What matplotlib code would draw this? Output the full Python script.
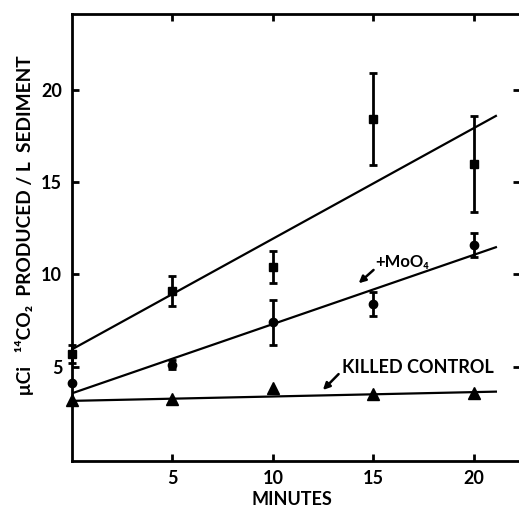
import matplotlib
matplotlib.use("Agg")
import matplotlib.pyplot as plt
import numpy as np

FONT = ['Lato', 'DejaVu Sans']
plt.rcParams['font.family'] = FONT

# Data
minutes = [0, 5, 10, 15, 20]
control_y = [5.7, 9.1, 10.4, 18.4, 16.0]
control_err = [0.5, 0.8, 0.85, 2.5, 2.6]
moo4_y = [4.1, 5.1, 7.4, 8.4, 11.6]
moo4_err = [0.0, 0.25, 1.2, 0.65, 0.65]
killed_y = [3.2, 3.25, 3.85, 3.5, 3.6]

# Fitted lines (start, end values)
fit_x = [0, 21.1]
control_fit = [5.94, 18.58]
moo4_fit = [3.56, 11.47]
killed_fit = [3.15, 3.65]

xticks = [5, 10, 15, 20]
yticks = [5, 10, 15, 20]

fig = plt.figure(figsize=(5.19, 5.08), dpi=100)
W, H = 519, 508
left_px, right_px = 72, 520
top_px, bot_px = 14, 460.7
ax = fig.add_axes([left_px / W, 1 - bot_px / H, (right_px - left_px) / W, (bot_px - top_px) / H])
ax.set_xlim(0, 22.3)
ax.set_ylim(-0.09, 24.1)

lw_line = 1.6
ax.plot(fit_x, control_fit, color='black', lw=lw_line)
ax.plot(fit_x, moo4_fit, color='black', lw=lw_line)
ax.plot(fit_x, killed_fit, color='black', lw=lw_line)

ax.errorbar(minutes, control_y, yerr=control_err, fmt='s', color='black', ms=6,
            capsize=3, elinewidth=2, capthick=2, clip_on=False)
ax.errorbar(minutes, moo4_y, yerr=moo4_err, fmt='o', color='black', ms=6,
            capsize=3, elinewidth=2, capthick=2, clip_on=False)
ax.plot(minutes, killed_y, '^', color='black', ms=8, clip_on=False)

for s in ax.spines.values():
    s.set_linewidth(2)

ax.set_xticks(xticks)
ax.set_yticks(yticks)
ax.tick_params(direction='in', length=5, width=2, top=True, right=True,
               labelsize=13, pad=7)
for lab in ax.get_xticklabels() + ax.get_yticklabels():
    lab.set_fontweight('bold')

ax.annotate('', xy=(14.27, 9.52), xytext=(15.01, 10.24),
            arrowprops=dict(arrowstyle='-|>', color='black', lw=1.8,
                            mutation_scale=10, shrinkA=0, shrinkB=0))
ax.text(15.1, 10.67, '+MoO\u2084', fontsize=12, fontweight='bold', va='center', ha='left')

ax.annotate('', xy=(12.49, 3.74), xytext=(13.27, 4.6),
            arrowprops=dict(arrowstyle='-|>', color='black', lw=1.8,
                            mutation_scale=10, shrinkA=0, shrinkB=0))
ax.text(13.44, 4.93, 'KILLED CONTROL', fontsize=13, fontweight='bold', va='center', ha='left')

fig.text(292 / W, 1 - 499.5 / H, 'MINUTES', fontsize=13, fontweight='bold',
         ha='center', va='center')
fig.text(25 / W, 1 - 225 / H, '\u03bcCi   \u00b9\u2074CO\u2082  PRODUCED / L  SEDIMENT',
         fontsize=13.8, fontweight='bold', rotation=90, ha='center', va='center')

fig.savefig('out.png', dpi=100)
